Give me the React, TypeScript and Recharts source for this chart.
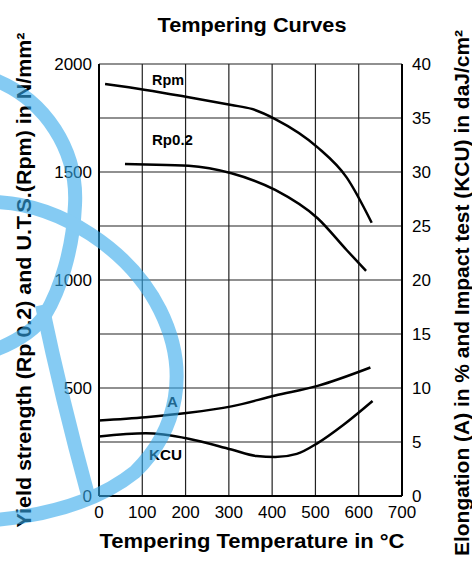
import React from "react";
import { LineChart, Line, CartesianGrid, XAxis, YAxis } from "recharts";

// temperatures (°C) and values
const rpmTemp = [14, 108, 207, 306, 353, 407, 505, 572, 630];
const rpmVal = [1907, 1880, 1846, 1810, 1792, 1745, 1614, 1475, 1265];

const rp02Temp = [60, 108, 207, 306, 407, 505, 572, 617];
const rp02Val = [1537, 1535, 1529, 1494, 1417, 1286, 1139, 1042];

const aTemp = [0, 108, 207, 306, 407, 505, 627];
const aVal = [7.0, 7.3, 7.7, 8.3, 9.3, 10.2, 11.9];

const kcuTemp = [0, 108, 207, 306, 364, 407, 457, 505, 565, 632];
const kcuVal = [5.5, 5.8, 5.3, 4.3, 3.7, 3.6, 3.9, 4.9, 6.6, 8.8];

const xTicks = [0, 100, 200, 300, 400, 500, 600, 700];
const leftTicks = [0, 250, 500, 750, 1000, 1250, 1500, 1750, 2000];
const rightTicks = [0, 5, 10, 15, 20, 25, 30, 35, 40];

const toRows = (t: number[], v: number[]) =>
  t.map((x, i) => ({ t: x, v: v[i] }));

const W = 472;
const H = 561;

const tickStyle = { fill: "#000", fontSize: 17 };

const App: React.FC = () => {
  return (
    <div
      style={{
        position: "absolute",
        left: 0,
        top: 0,
        width: W,
        height: H,
        background: "#fff",
        fontFamily: '"Liberation Sans", Arial, sans-serif',
      }}
    >
      <LineChart
        width={W}
        height={H}
        margin={{ top: 64, right: 0, bottom: 35, left: 0 }}
      >
        <CartesianGrid
          yAxisId="left"
          stroke="#222"
          strokeWidth={1.2}
          strokeOpacity={1}
        />
        <XAxis
          type="number"
          dataKey="t"
          domain={[0, 700]}
          ticks={xTicks}
          height={30}
          tickLine={false}
          tickSize={6}
          tickMargin={4}
          axisLine={{ stroke: "#000", strokeWidth: 2 }}
          tick={tickStyle}
          interval={0}
        />
        <YAxis
          yAxisId="left"
          orientation="left"
          width={99}
          domain={[0, 2000]}
          ticks={leftTicks}
          tickFormatter={(v: number) => (v % 500 === 0 ? String(v) : "")}
          tickLine={false}
          tickSize={5}
          tickMargin={2}
          axisLine={{ stroke: "#000", strokeWidth: 2 }}
          tick={tickStyle}
          interval={0}
        />
        <YAxis
          yAxisId="right"
          orientation="right"
          width={70}
          domain={[0, 40]}
          ticks={rightTicks}
          tickLine={false}
          tickSize={6}
          tickMargin={4}
          axisLine={{ stroke: "#000", strokeWidth: 2 }}
          tick={tickStyle}
          interval={0}
        />
        <Line
          yAxisId="left"
          data={toRows(rpmTemp, rpmVal)}
          dataKey="v"
          type="monotone"
          stroke="#000"
          strokeWidth={2.5}
          dot={false}
          isAnimationActive={false}
        />
        <Line
          yAxisId="left"
          data={toRows(rp02Temp, rp02Val)}
          dataKey="v"
          type="monotone"
          stroke="#000"
          strokeWidth={2.5}
          dot={false}
          isAnimationActive={false}
        />
        <Line
          yAxisId="right"
          data={toRows(aTemp, aVal)}
          dataKey="v"
          type="monotone"
          stroke="#000"
          strokeWidth={2.5}
          dot={false}
          isAnimationActive={false}
        />
        <Line
          yAxisId="right"
          data={toRows(kcuTemp, kcuVal)}
          dataKey="v"
          type="monotone"
          stroke="#000"
          strokeWidth={2.5}
          dot={false}
          isAnimationActive={false}
        />
      </LineChart>

      <svg
        width={W}
        height={H}
        style={{ position: "absolute", left: 0, top: 0, pointerEvents: "none" }}
      >
        <g fontWeight="bold" fill="#000">
          <text x={252} y={32} fontSize={20} textAnchor="middle" textLength={189} lengthAdjust="spacingAndGlyphs">
            Tempering Curves
          </text>
          <text x={252} y={548} fontSize={21} textAnchor="middle" textLength={305} lengthAdjust="spacingAndGlyphs">
            Tempering Temperature in °C
          </text>
          <text
            transform="translate(31,280) rotate(-90)"
            fontSize={21}
            textAnchor="middle"
            textLength={495}
            lengthAdjust="spacingAndGlyphs"
          >
            Yield strength (Rp 0.2) and U.T.S.(Rpm) in N/mm²
          </text>
          <text
            transform="translate(469,293) rotate(-90)"
            fontSize={21}
            textAnchor="middle"
            textLength={526}
            lengthAdjust="spacingAndGlyphs"
          >
            Elongation (A) in % and Impact test (KCU) in daJ/cm²
          </text>
          <text x={152} y={85} fontSize={15} textLength={32} lengthAdjust="spacingAndGlyphs">Rpm</text>
          <text x={152} y={145} fontSize={15} textLength={41} lengthAdjust="spacingAndGlyphs">Rp0.2</text>
          <text x={167} y={407} fontSize={15}>A</text>
          <text x={149} y={460} fontSize={15} textLength={33} lengthAdjust="spacingAndGlyphs">KCU</text>
        </g>
        {/* watermark logo */}
        <g opacity={0.6} fill="none" stroke="#35AAEC" strokeWidth={14}>
          <path d="M -5 80 C 45 100, 78 150, 75 205 C 73 250, 60 290, 45 315 C 35 330, 15 342, -5 350" />
          <path d="M -5 202 C 60 204, 130 250, 160 310 C 190 370, 178 430, 135 472 C 100 500, 50 515, -5 520" />
          <path d="M 42 305 Q 62 400 88 495" />
        </g>
      </svg>
    </div>
  );
};

export default App;
